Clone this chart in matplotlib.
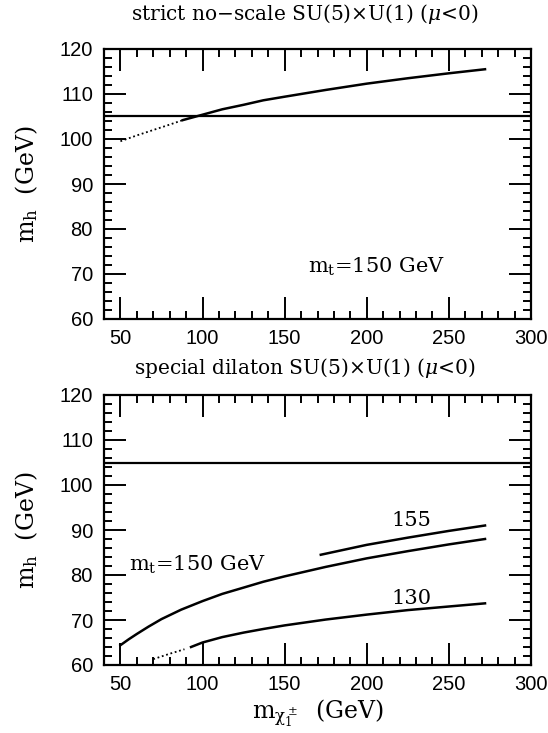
import numpy as np
import matplotlib
matplotlib.use("Agg")
import matplotlib.pyplot as plt
from matplotlib.ticker import MultipleLocator

plt.rcParams['mathtext.fontset'] = 'dejavuserif'

# ---- data ----
# strict no-scale, mt = 150 GeV
top_dot_x = [50, 60, 70, 80, 88]
top_dot_y = [99.5, 100.8, 102.0, 103.2, 104.2]
top_x = [88, 100, 112, 125, 137, 150, 175, 200, 225, 250, 272]
top_y = [104.2, 105.4, 106.6, 107.6, 108.6, 109.4, 110.9, 112.3, 113.5, 114.6, 115.5]

# special dilaton, mt = 150 GeV
d150_x = [50, 55, 60, 67, 75, 87, 100, 112, 125, 137, 150, 175, 200, 225, 250, 272]
d150_y = [64.4, 65.7, 66.9, 68.5, 70.2, 72.3, 74.2, 75.8, 77.2, 78.5, 79.7,
          81.8, 83.7, 85.3, 86.8, 88.0]
# mt = 155 GeV
d155_x = [172, 200, 225, 250, 272]
d155_y = [84.5, 86.7, 88.3, 89.8, 91.0]
# mt = 130 GeV
d130_dot_x = [70, 80, 89]
d130_dot_y = [61.3, 62.5, 63.5]
d130_x = [93, 100, 112, 125, 137, 150, 175, 200, 225, 250, 272]
d130_y = [64.0, 65.0, 66.2, 67.2, 68.0, 68.8, 70.1, 71.2, 72.2, 73.0, 73.7]

lep_limit = 105.0
xticks = [50, 100, 150, 200, 250, 300]
yticks = [60, 70, 80, 90, 100, 110, 120]

fig = plt.figure(figsize=(5.48, 7.33), dpi=100)
ax1 = fig.add_axes([104/548, 1-319/733, 427/548, 270/733])
ax2 = fig.add_axes([104/548, 1-665/733, 427/548, 270/733])

serif = 'DejaVu Serif'

for ax in (ax1, ax2):
    ax.set_xlim(40, 300)
    ax.set_ylim(60, 120)
    ax.set_xticks(xticks)
    ax.set_yticks(yticks)
    ax.xaxis.set_minor_locator(MultipleLocator(10))
    ax.yaxis.set_minor_locator(MultipleLocator(2))
    ax.tick_params(which='both', direction='in', top=True, right=True,
                   width=1.4, color='black')
    ax.tick_params(which='major', length=16, labelsize=14.5,
                   labelfontfamily='Liberation Sans')
    ax.tick_params(which='minor', length=6)
    ax.tick_params(axis='y', which='major', pad=8)
    ax.tick_params(axis='x', which='major', pad=7)
    for sp in ax.spines.values():
        sp.set_linewidth(1.6)
    ax.axhline(lep_limit, color='black', lw=1.6)
    ax.set_ylabel(r'$\mathregular{m_h}$  (GeV)', fontsize=17, family=serif,
                  labelpad=14)

# top panel
ax1.plot(top_dot_x, top_dot_y, color='black', lw=1.3, ls=(0, (1, 1.5)))
ax1.plot(top_x, top_y, color='black', lw=1.8)
ax1.text(164, 71.5, r'$\mathregular{m_t}$=150 GeV', fontsize=15, family=serif,
         va='center', ha='left')
ax1.set_title(r'strict no$-$scale SU(5)$\times$U(1) ($\mu$<0)', fontsize=14.5,
              family=serif, pad=21, x=0.47)

# bottom panel
ax2.plot(d150_x, d150_y, color='black', lw=1.8)
ax2.plot(d155_x, d155_y, color='black', lw=1.8)
ax2.plot(d130_dot_x, d130_dot_y, color='black', lw=1.3, ls=(0, (1, 1.5)))
ax2.plot(d130_x, d130_y, color='black', lw=1.8)
ax2.text(55.5, 82.3, r'$\mathregular{m_t}$=150 GeV', fontsize=15, family=serif,
         va='center', ha='left')
ax2.text(227, 92.2, '155', fontsize=15, family=serif, va='center', ha='center')
ax2.text(227, 74.8, '130', fontsize=15, family=serif, va='center', ha='center')
ax2.set_title(r'special dilaton SU(5)$\times$U(1) ($\mu$<0)', fontsize=14.5,
              family=serif, pad=15, x=0.47)
ax2.set_xlabel(r'$\mathregular{m_{\chi_1^\pm}}$  (GeV)', fontsize=17,
               family=serif, labelpad=3)

fig.savefig('out.png', dpi=100)
